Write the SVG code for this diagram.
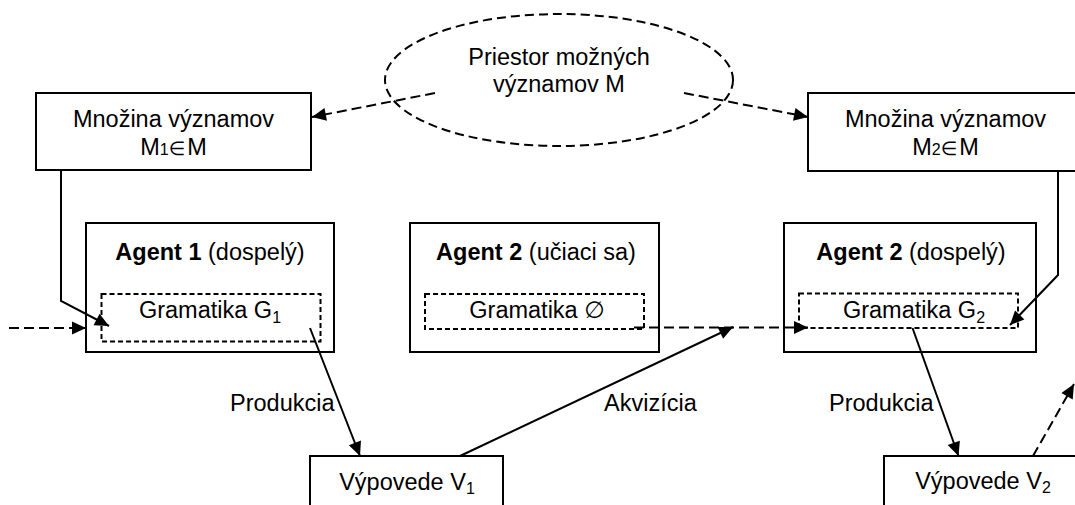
<svg xmlns="http://www.w3.org/2000/svg" width="1075" height="505" viewBox="0 0 1075 505">
<defs>
<style>
.box{fill:#fff;stroke:#000;stroke-width:2}
.inner{fill:none;stroke:#000;stroke-width:2;stroke-dasharray:5 3}
.ell{fill:none;stroke:#000;stroke-width:2;stroke-dasharray:9 5}
.t{font-family:"Liberation Sans",Arial,"DejaVu Sans",sans-serif;font-size:23.5px;fill:#000;text-anchor:middle}
.l{text-anchor:start}
.c{stroke:#000;stroke-width:2;fill:none;marker-end:url(#ah)}
.d{stroke-dasharray:10 5}
</style>
<marker id="ah" markerUnits="userSpaceOnUse" markerWidth="15" markerHeight="14" refX="14" refY="6.5" orient="auto" overflow="visible">
<path d="M0,0 L14,6.5 L0,13 Z" fill="#000" stroke="none"/>
</marker>
</defs>
<rect width="1075" height="505" fill="#fff"/>

<g id="space">
<ellipse class="ell" cx="559" cy="80" rx="174" ry="66"/>
<text class="t" x="559" y="65">Priestor možných</text>
<text class="t" x="559" y="92">významov M</text>
</g>

<g id="m1">
<rect class="box" x="36" y="93" width="275" height="77"/>
<text class="t" x="173.5" y="127">Množina významov</text>
<text class="t" x="173.5" y="155">M<tspan font-size="16">1</tspan><tspan font-size="19">∈</tspan><tspan dx="2">M</tspan></text>
</g>

<g id="m2">
<rect class="box" x="808" y="93" width="275" height="78"/>
<text class="t" x="945.5" y="127">Množina významov</text>
<text class="t" x="945.5" y="155">M<tspan font-size="16">2</tspan><tspan font-size="19">∈</tspan><tspan dx="2">M</tspan></text>
</g>

<g id="agent1">
<rect class="box" x="86" y="223" width="248" height="129"/>
<text class="t" x="210" y="260"><tspan font-weight="bold">Agent 1</tspan> (dospelý)</text>
<rect class="inner" x="101.5" y="294" width="219" height="47.5"/>
<text class="t" x="210" y="318">Gramatika G<tspan font-size="16" dy="5">1</tspan></text>
</g>

<g id="agent2learner">
<rect class="box" x="410" y="223" width="249" height="129"/>
<text class="t" x="536" y="260"><tspan font-weight="bold">Agent 2</tspan> (učiaci sa)</text>
<rect class="inner" x="425" y="294" width="219" height="35"/>
<text class="t" x="537" y="318">Gramatika ∅</text>
</g>

<g id="agent2adult">
<rect class="box" x="784" y="223" width="252" height="129"/>
<text class="t" x="911" y="260"><tspan font-weight="bold">Agent 2</tspan> (dospelý)</text>
<rect class="inner" x="799" y="293.5" width="219" height="34.5"/>
<text class="t" x="914" y="318">Gramatika G<tspan font-size="16" dy="5">2</tspan></text>
</g>

<g id="v1">
<rect class="box" x="310" y="456" width="193" height="70"/>
<text class="t" x="407" y="490">Výpovede V<tspan font-size="16" dy="4">1</tspan></text>
</g>

<g id="v2">
<rect class="box" x="884" y="456" width="200" height="70"/>
<text class="t" x="983" y="489">Výpovede V<tspan font-size="16" dy="4">2</tspan></text>
</g>

<g id="labels">
<text class="t l" x="230" y="411">Produkcia</text>
<text class="t l" x="604" y="411">Akvizícia</text>
<text class="t l" x="829" y="411">Produkcia</text>
</g>

<g id="connectors">
<path class="c d" d="M435,93 L312,117"/>
<path class="c d" d="M684,93 L808,117"/>
<path class="c" d="M61,170 L61,301 L109,326"/>
<path class="c" d="M1058,171 L1058,275 L1010,325"/>
<path class="c d" d="M9,328 L86,328"/>
<path class="c" d="M310,328 L360,456"/>
<path class="c" d="M460,456 L733,327"/>
<path class="c d" d="M634,327.5 L808,327.5"/>
<path class="c" d="M912.5,328 L958.5,456"/>
<path class="c d" d="M1033,456 L1074,384"/>
</g>
</svg>
